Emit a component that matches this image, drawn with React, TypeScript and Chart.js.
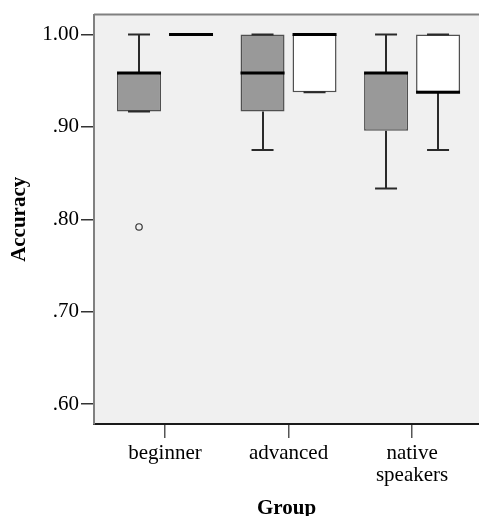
import React, { useEffect, useRef } from 'react';
import { Chart, registerables } from 'chart.js';

Chart.register(...registerables);

// Categories (x tick labels, multi-line where needed)
const groups = [['beginner'], ['advanced'], ['native', 'speakers']];
const yTickValues = [0.6, 0.7, 0.8, 0.9, 1.0];

// Series A (grey boxes)
const lowA = [0.9167, 0.875, 0.8333];
const q1A = [0.9167, 0.9167, 0.8958];
const medA = [0.9583, 0.9583, 0.9583];
const q3A = [0.9583, 1.0, 0.9583];
const highA = [1.0, 1.0, 1.0];
const outA: number[][] = [[0.7917], [], []];

// Series B (white boxes)
const lowB = [1.0, 0.9375, 0.875];
const q1B = [1.0, 0.9375, 0.9375];
const medB = [1.0, 1.0, 0.9375];
const q3B = [1.0, 1.0, 1.0];
const highB = [1.0, 1.0, 1.0];
const outB: number[][] = [[], [], []];

const stats = [
  { low: lowA, q1: q1A, med: medA, q3: q3A, high: highA, out: outA },
  { low: lowB, q1: q1B, med: medB, q3: q3B, high: highB, out: outB },
];

const FONT = "'Liberation Serif', 'Times New Roman', serif";

const boxPlugin = {
  id: 'boxExtras',
  beforeDraw(chart: any) {
    const { ctx, chartArea: a } = chart;
    ctx.save();
    ctx.fillStyle = '#f0f0f0';
    ctx.fillRect(a.left, a.top, a.right - a.left, a.bottom - a.top);
    ctx.restore();
  },
  beforeDatasetsDraw(chart: any) {
    const { ctx } = chart;
    const y = chart.scales.y;
    ctx.save();
    ctx.strokeStyle = '#2a2a2a';
    ctx.lineWidth = 2;
    stats.forEach((s, d) => {
      const meta = chart.getDatasetMeta(d);
      meta.data.forEach((el: any, i: number) => {
        const x = Math.round(el.x);
        ctx.beginPath();
        ctx.moveTo(x, y.getPixelForValue(s.high[i]));
        ctx.lineTo(x, y.getPixelForValue(s.q3[i]));
        ctx.moveTo(x, y.getPixelForValue(s.q1[i]));
        ctx.lineTo(x, y.getPixelForValue(s.low[i]));
        ctx.stroke();
      });
    });
    ctx.restore();
  },
  afterDatasetsDraw(chart: any) {
    const { ctx, chartArea: a } = chart;
    const y = chart.scales.y;
    ctx.save();
    stats.forEach((s, d) => {
      const meta = chart.getDatasetMeta(d);
      meta.data.forEach((el: any, i: number) => {
        const x = el.x;
        const w = el.width;
        // caps
        ctx.strokeStyle = '#2a2a2a';
        ctx.lineWidth = 2;
        ctx.beginPath();
        [s.high[i], s.low[i]].forEach((v) => {
          const py = y.getPixelForValue(v);
          ctx.moveTo(x - w / 4, py);
          ctx.lineTo(x + w / 4, py);
        });
        ctx.stroke();
        // median
        ctx.strokeStyle = '#000000';
        ctx.lineWidth = 3;
        ctx.beginPath();
        const pm = y.getPixelForValue(s.med[i]);
        ctx.moveTo(x - w / 2, pm);
        ctx.lineTo(x + w / 2, pm);
        ctx.stroke();
        // outliers
        ctx.strokeStyle = '#333333';
        ctx.lineWidth = 1.2;
        s.out[i].forEach((v) => {
          ctx.beginPath();
          ctx.arc(x, y.getPixelForValue(v), 3.2, 0, Math.PI * 2);
          ctx.stroke();
        });
      });
    });
    // top frame line
    ctx.strokeStyle = '#808080';
    ctx.lineWidth = 2;
    ctx.beginPath();
    ctx.moveTo(a.left, a.top);
    ctx.lineTo(a.right, a.top);
    ctx.stroke();
    ctx.restore();
  },
};

export default function App() {
  const ref = useRef<HTMLCanvasElement | null>(null);

  useEffect(() => {
    if (!ref.current) return;
    const chart = new Chart(ref.current, {
      type: 'bar',
      data: {
        datasets: [
          {
            label: 'A',
            data: groups.map((_, i) => ({ x: i, y: [q1A[i], q3A[i]] })) as any,
            backgroundColor: '#999999',
            borderColor: '#505050',
            borderWidth: 1.5,
            borderSkipped: false,
            categoryPercentage: 0.842,
            barPercentage: 0.846,
          },
          {
            label: 'B',
            data: groups.map((_, i) => ({ x: i, y: [q1B[i], q3B[i]] })) as any,
            backgroundColor: '#ffffff',
            borderColor: '#505050',
            borderWidth: 1.5,
            borderSkipped: false,
            categoryPercentage: 0.842,
            barPercentage: 0.846,
          },
        ],
      },
      options: {
        responsive: false,
        animation: false,
        layout: { padding: { top: 14, right: 0, bottom: 0, left: 0 } },
        plugins: {
          legend: { display: false },
          tooltip: { enabled: false },
        },
        scales: {
          x: {
            type: 'linear',
            offset: false,
            min: -0.575,
            max: 2.542,
            afterBuildTicks: (scale: any) => {
              scale.ticks = groups.map((_, i) => ({ value: i }));
            },
            afterFit: (scale: any) => {
              scale.height = 92;
            },
            ticks: {
              callback: (v: any) => groups[Math.round(Number(v))] ?? '',
              color: '#000',
              font: { family: FONT, size: 21, lineHeight: 1.05 },
              padding: 4,
              maxRotation: 0,
              autoSkip: false,
            },
            grid: {
              offset: false,
              drawOnChartArea: false,
              drawTicks: true,
              tickLength: 14,
              color: '#555',
              lineWidth: 1.5,
            },
            border: { color: '#1a1a1a', width: 2 },
            title: {
              display: true,
              text: 'Group',
              color: '#000',
              font: { family: FONT, size: 21, weight: 'bold', lineHeight: 0.7 },
              padding: { top: 0, bottom: 0 },
            },
          },
          y: {
            type: 'linear',
            min: 0.5784,
            max: 1.0216,
            afterBuildTicks: (scale: any) => {
              scale.ticks = yTickValues.map((v) => ({ value: v }));
            },
            afterFit: (scale: any) => {
              scale.width = 94;
            },
            ticks: {
              callback: (v: any) => Number(v).toFixed(2).replace(/^0/, ''),
              color: '#000',
              font: { family: FONT, size: 21 },
              padding: 2,
            },
            grid: {
              drawOnChartArea: false,
              drawTicks: true,
              tickLength: 13,
              color: '#333',
              lineWidth: 1.5,
            },
            border: { color: '#808080', width: 2 },
            title: {
              display: true,
              text: 'Accuracy',
              color: '#000',
              font: { family: FONT, size: 21, weight: 'bold', lineHeight: 1 },
              padding: { top: 9, bottom: 0 },
            },
          },
        },
      } as any,
      plugins: [boxPlugin],
    });
    return () => chart.destroy();
  }, []);

  return (
    <div style={{ position: 'fixed', left: 0, top: 0, width: 479, height: 516, background: '#fff' }}>
      <canvas ref={ref} width={479} height={516} style={{ display: 'block' }} />
    </div>
  );
}
